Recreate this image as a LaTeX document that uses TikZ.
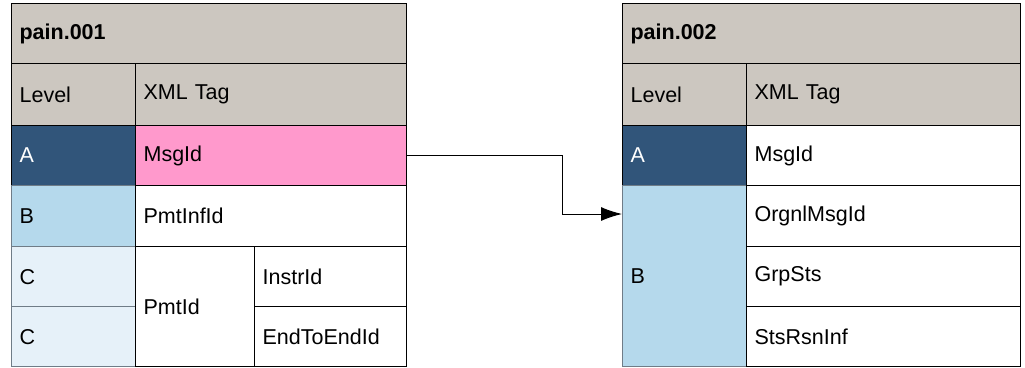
\documentclass[tikz,border=0pt]{standalone}
\usepackage{fontspec}
\setmainfont{Liberation Sans}
\usetikzlibrary{arrows.meta}
\definecolor{hdrgray}{HTML}{CCC7C0}
\definecolor{lvlA}{HTML}{31557A}
\definecolor{lvlB}{HTML}{B5D9EC}
\definecolor{lvlC}{HTML}{E6F1F9}
\definecolor{hilite}{HTML}{FF99CC}
\definecolor{softline}{HTML}{6F7C87}

\begin{document}
\begin{tikzpicture}[x=1pt, y=-1pt,
            cell/.style={draw, line width=1.2pt, anchor=north west, inner xsep=8pt, inner ysep=0pt,
                         align=left, font=\fontsize{21.5}{25}\selectfont},
            title/.style={cell, fill=hdrgray, font=\fontsize{21.5}{25}\selectfont\bfseries},
            head/.style={cell, fill=hdrgray},
            arrow/.style={-{Latex[length=21pt, width=14pt]}, line width=1pt}
        ]
            \useasboundingbox (0,0) rectangle (1025,367);

            % Left table: pain.001
            \node[title, text width=379pt, minimum height=60pt] (title1) at (11,3) {pain.001};
            \node[head, text width=108pt, minimum height=62pt] (level1) at (11,63) {Level};
            \node[head, text width=255pt, minimum height=62pt] (tag1) at (135,63) {XML Tag};
            \node[cell, fill=lvlA, text=white, text width=108pt, minimum height=60pt] (a1) at (11,125) {A};
            \node[cell, fill=hilite, text width=255pt, minimum height=60pt] (msgid1) at (135,125) {MsgId};
            \node[cell, fill=lvlB, draw=softline, text width=108pt, minimum height=61pt] (b1) at (11,185) {B};
            \node[cell, text width=255pt, minimum height=61pt] (pmtinfid) at (135,185) {PmtInfId};
            \node[cell, fill=lvlC, draw=softline, text width=108pt, minimum height=60pt] (c1) at (11,246) {C};
            \node[cell, fill=lvlC, draw=softline, text width=108pt, minimum height=60pt] (c2) at (11,306) {C};
            \node[cell, text width=103pt, minimum height=120pt] (pmtid) at (135,246) {PmtId};
            \node[cell, text width=136pt, minimum height=60pt] (instrid) at (254,246) {InstrId};
            \node[cell, text width=136pt, minimum height=60pt] (e2eid) at (254,306) {EndToEndId};

            % Right table: pain.002
            \node[title, text width=382pt, minimum height=60pt] (title2) at (622,3) {pain.002};
            \node[head, text width=108pt, minimum height=62pt] (level2) at (622,63) {Level};
            \node[head, text width=258pt, minimum height=62pt] (tag2) at (746,63) {XML Tag};
            \node[cell, fill=lvlA, text=white, text width=108pt, minimum height=60pt] (a2) at (622,125) {A};
            \node[cell, text width=258pt, minimum height=60pt] (msgid2) at (746,125) {MsgId};
            \node[cell, fill=lvlB, draw=softline, text width=108pt, minimum height=181pt] (b2) at (622,185) {B};
            \node[cell, text width=258pt, minimum height=61pt] (orgnl) at (746,185) {OrgnlMsgId};
            \node[cell, text width=258pt, minimum height=60pt] (grpsts) at (746,246) {GrpSts};
            \node[cell, text width=258pt, minimum height=60pt] (stsrsn) at (746,306) {StsRsnInf};

            % Connecting arrow
            \coordinate (hit) at ([yshift=-29pt]b2.north west);
            \draw[arrow] (msgid1.east) -- ++(155,0) |- (hit);

        \end{tikzpicture}
\end{document}
